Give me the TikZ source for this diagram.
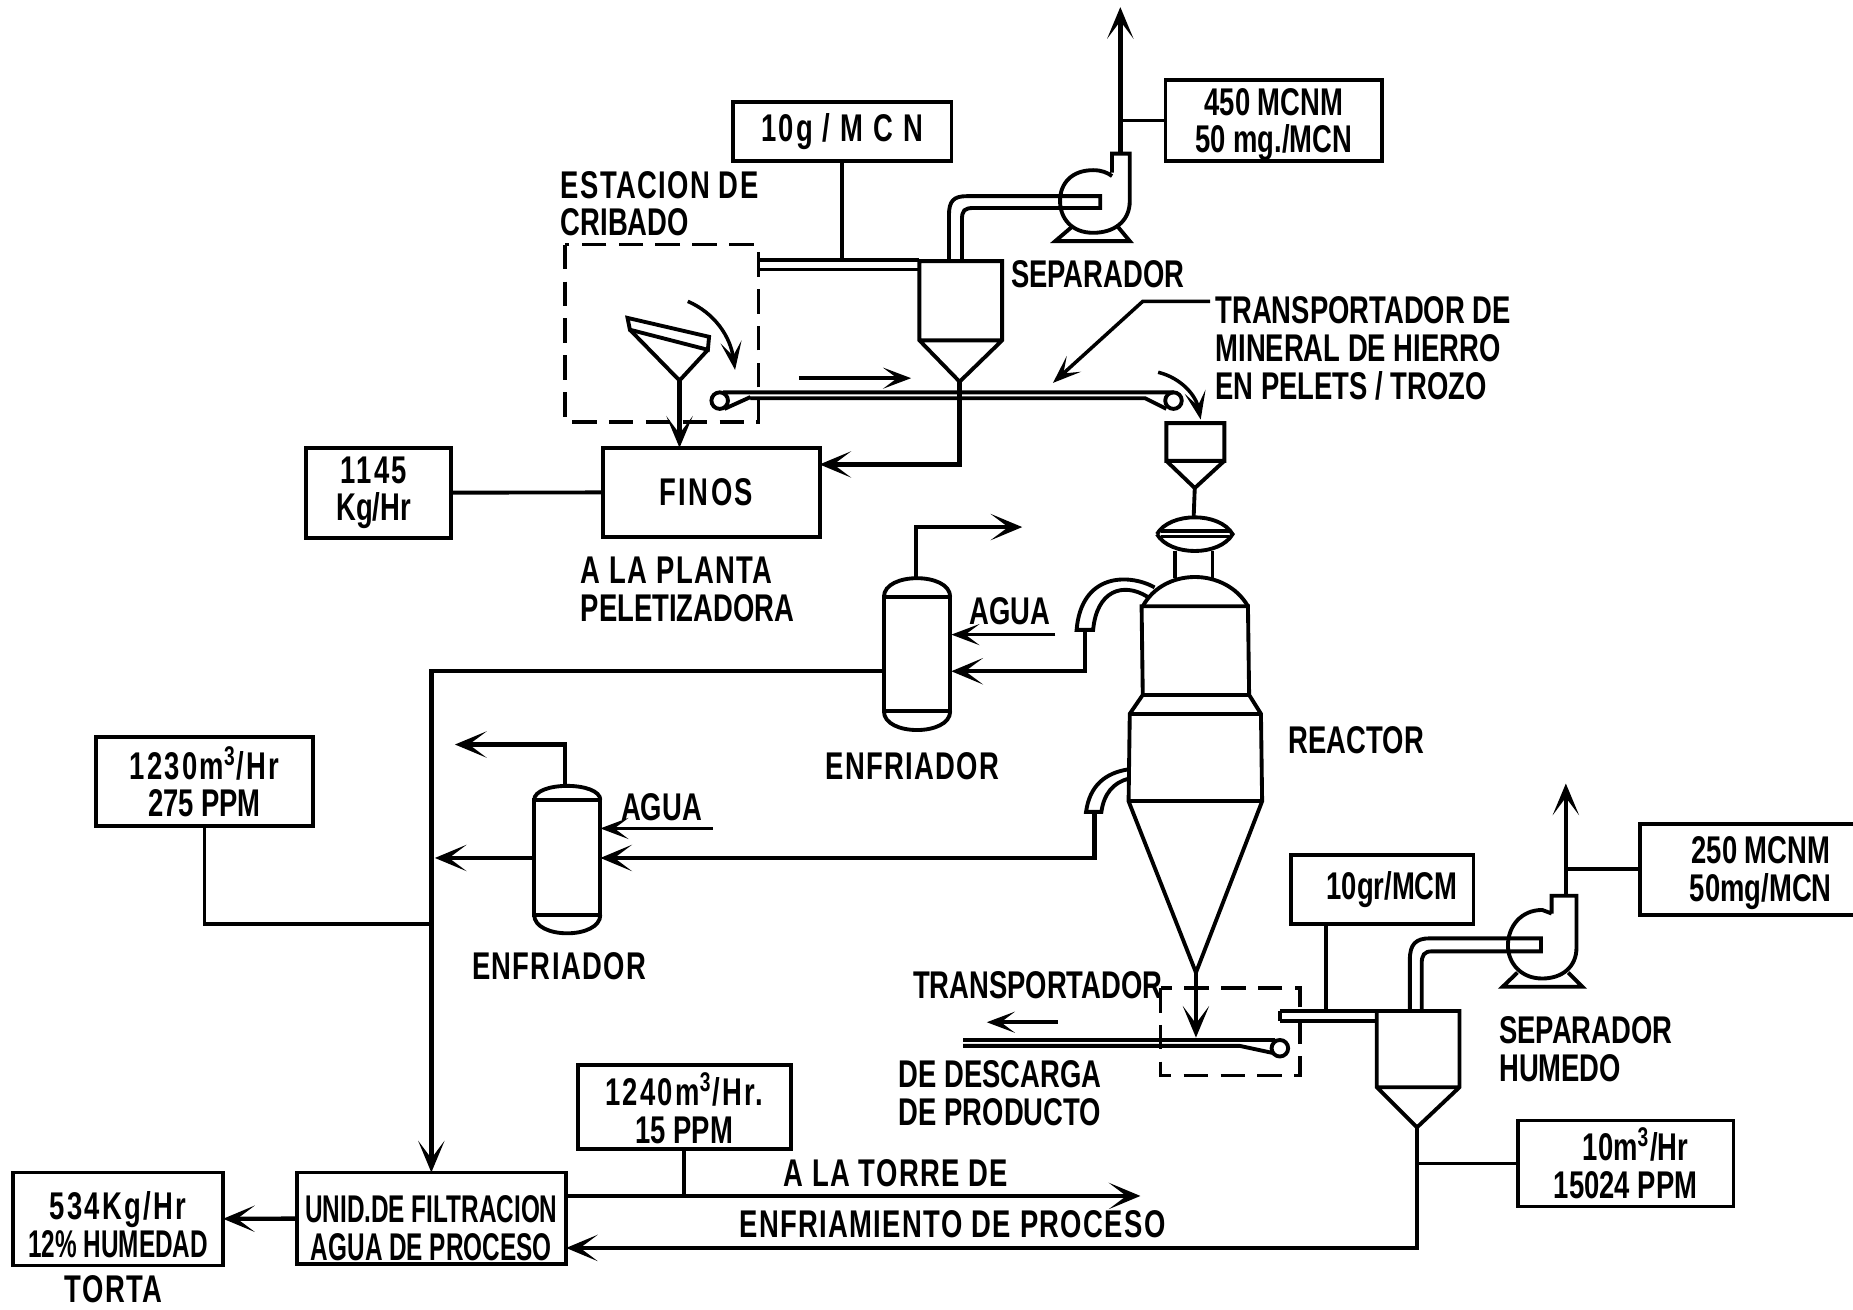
\documentclass[tikz,border=0pt]{standalone}
\usepackage{fontspec}
\usepackage{tikz}
\usetikzlibrary{arrows.meta,calc}
\setmainfont{Liberation Sans}[FakeStretch=0.71]
\newfontfamily\spacedfont{Liberation Sans}[FakeStretch=0.71,LetterSpace=3.5]
\newfontfamily\numfont{Liberation Sans}[FakeStretch=0.71,LetterSpace=6]
\newfontfamily\tightfont{Liberation Sans}[FakeStretch=0.63]
\newcommand{\dropline}[1]{\rule{0pt}{#1}}
\tikzset{
  pipe/.style={line width=1.1pt},
  flow/.style={line width=1.25pt,-{Stealth[length=9pt,width=7.5pt,inset=5pt]}},
  thinflow/.style={line width=1pt,-{Stealth[length=8pt,width=6pt,inset=4pt]}},
  tag/.style={draw,line width=1.1pt,align=center,inner sep=0pt,outer sep=0pt},
  lbl/.style={align=left,anchor=west,inner sep=0pt},
  spaced/.style={font=\fontsize{11}{10.8}\selectfont\spacedfont\bfseries},
  screen/.style={line width=1pt,dash pattern=on 7pt off 3.5pt},
}
\begin{document}
\begin{tikzpicture}[x=0.011818cm,y=-0.011818cm,font=\fontsize{11}{10.8}\selectfont\bfseries]
    \useasboundingbox (0,0) rectangle (1568,1108);
    \node[tag,minimum width=2.17cm,minimum height=.79cm] (box450) at (1078,102) {\dropline{10pt}450 MCNM\\50 mg./MCN};
    \node[tag,minimum width=2.19cm,minimum height=.59cm] (box10g) at (712.5,111) {\numfont 10g / M C N};
    \node[tag,minimum width=1.45cm,minimum height=.90cm] (box1145) at (320.5,417) {\hspace*{-.1cm}{\numfont 1145}\\\hspace*{-.1cm}Kg/Hr};
    \node[tag,minimum width=2.17cm,minimum height=.89cm] (finos) at (602,416.5) {\hspace*{-.1cm}\numfont FINOS};
    \node[tag,minimum width=2.17cm,minimum height=.89cm] (box1230) at (173,661.5) {{\numfont 1230m\textsuperscript{3}/Hr}\\275 PPM};
    \node[tag,minimum width=1.83cm,minimum height=.69cm] (box10gr) at (1169.5,753) {\hspace{.2cm}10gr/MCM};
    \node[tag,minimum width=2.41cm,minimum height=.91cm] (box250) at (1490,735.5) {\dropline{10pt}250 MCNM\\50mg/MCN};
    \node[tag,minimum width=2.16cm,minimum height=.86cm] (box10m) at (1375.5,984.5) {\hspace{.2cm}10m\textsuperscript{3}/Hr\\15024 PPM};
    \node[tag,minimum width=2.13cm,minimum height=.84cm] (box1240) at (579,936.5) {\dropline{10pt}{\numfont 1240m\textsuperscript{3}/Hr.}\\15 PPM};
    \node[tag,minimum width=2.69cm,minimum height=.92cm] (unid) at (365,1031) {\dropline{13pt}\tightfont UNID.DE FILTRACION\\\tightfont AGUA DE PROCESO};
    \node[tag,minimum width=2.10cm,minimum height=.93cm] (box534) at (100,1031.5) {\dropline{11pt}{\numfont 534Kg/Hr}\\\tightfont 12\% HUMEDAD};

    \node[lbl,spaced] (estacion) at (474,157) {ESTACION DE};
    \node[lbl] (cribado) at (474,188) {CRIBADO};
    \node[lbl] (separador) at (855,232) {SEPARADOR};
    \node[lbl] (mineral) at (1028,295) {TRANSPORTADOR DE\\MINERAL DE HIERRO\\EN PELETS / TROZO};
    \node[lbl] (planta) at (491,499) {{\spacedfont A LA PLANTA}\\PELETIZADORA};
    \node[lbl] (agua1) at (820,517) {AGUA};
    \node[spaced] (enfriador1) at (772,648) {ENFRIADOR};
    \node[lbl] (agua2) at (525,683) {AGUA};
    \node[spaced] (enfriador2) at (473,818) {ENFRIADOR};
    \node[lbl] (reactor) at (1090,626) {REACTOR};
    \node[lbl] (humedo) at (1268,888) {SEPARADOR\\HUMEDO};
    \node[lbl] (transp) at (772,834) {TRANSPORTADOR};
    \node[lbl] (descarga) at (760,925) {DE DESCARGA\\DE PRODUCTO};
    \node[spaced] (torre) at (758,993) {A LA TORRE DE};
    \node[spaced] (proceso) at (806,1036) {ENFRIAMIENTO DE PROCESO};
    \node[spaced] (torta) at (96,1091) {TORTA};

    \coordinate (vent1) at (948,6);
    \coordinate (fan1out) at (948,130);
    \coordinate (duct1) at (714,220);
    \coordinate (sieveapex) at (575,322);
    \coordinate (sep1apex) at (812,323);
    \coordinate (finosin) at (693.5,393);
    \coordinate (hopapex) at (1011,413);
    \coordinate (lenstop) at (1010,439);
    \coordinate (coolA) at (748,568);
    \coordinate (coolAe) at (805,568);
    \coordinate (coolAw) at (805,537);
    \coordinate (waterA) at (893,537);
    \coordinate (coolAtop) at (775,489);
    \coordinate (ventA) at (865,446);
    \coordinate (neckA) at (918,533);
    \coordinate (coolBw) at (452,726);
    \coordinate (coolBe) at (508,726);
    \coordinate (coolBin) at (508,701);
    \coordinate (waterB) at (603,701);
    \coordinate (coolBtop) at (478,665);
    \coordinate (ventB) at (385,630);
    \coordinate (neckB) at (926,687);
    \coordinate (junction) at (368,726);
    \coordinate (mainleft) at (366,782);
    \coordinate (reactapex) at (1012,823);
    \coordinate (belt2) at (1012,878);
    \coordinate (grtop) at (1122,782);
    \coordinate (duct2) at (1122,855);
    \coordinate (vent2) at (1325,663);
    \coordinate (fan2out) at (1325,758);
    \coordinate (sep2apex) at (1199,954);
    \coordinate (unidin) at (479,1056);
    \coordinate (tower) at (965,1012);

    \draw[flow] (fan1out) -- (vent1);
    \draw[pipe] (box450) -- (box450 -| vent1);
    \draw[pipe] (box10g.south) -- (box10g.south |- duct1);
    \draw[pipe] (box1145) -- (finos);
    \draw[flow] (sieveapex) -- (sieveapex |- finos.north);
    \draw[flow] (sep1apex) |- (finosin);
    \draw[pipe] (hopapex) -- (lenstop);
    \draw[flow] (coolA) -| (unid.north);
    \draw[flow] (neckA) |- (coolAe);
    \draw[thinflow] (waterA) -- (coolAw);
    \draw[flow] (coolAtop) |- (ventA);
    \draw[flow] (neckB) |- (coolBe);
    \draw[thinflow] (waterB) -- (coolBin);
    \draw[flow] (coolBtop) |- (ventB);
    \draw[flow] (coolBw) -- (junction);
    \draw[pipe] (box1230.south) |- (mainleft);
    \draw[flow] (reactapex) -- (belt2);
    \draw[pipe] (grtop) -- (duct2);
    \draw[flow] (fan2out) -- (vent2);
    \draw[pipe] (box250.west) -- (box250.west -| vent2);
    \draw[flow] (sep2apex) |- (unidin);
    \draw[pipe] (box10m) -- (box10m -| sep2apex);
    \draw[flow] (unid.east |- tower) -- (tower);
    \draw[pipe] (box1240.south) -- (box1240.south |- tower);
    \draw[flow] (unid) -- (box534);

    \draw[screen] (478,207) rectangle (642,357);
    \draw[screen] (982,836) rectangle (1100,910);

    \draw[pipe] (778,221) -- (848,221) -- (848,288) -- (812,323) -- (778,288) -- cycle (778,288) -- (848,288);
    \draw[pipe] (642,220) -- (778,220) (642,228) -- (778,228);
    \draw[pipe] (803,220) -- (803,182) .. controls (803,170) and (807,166) .. (818,166) -- (931,166) -- (931,176) -- (824,176) .. controls (816,176) and (814,178) .. (814,186) -- (814,220);
    \draw[pipe] (941,146) -- (941,130) -- (956,130) -- (956,170) .. controls (956,188) and (942,197) .. (925,197) .. controls (907,197) and (897,185) .. (897,170) .. controls (897,155) and (907,144) .. (925,144) .. controls (932,144) and (937,146) .. (941,149);
    \draw[pipe] (907,192) -- (893,204) -- (956,204) -- (946,192);

    \draw[pipe] (531,269) -- (600,285) -- (599,296) -- (533,279) -- cycle;
    \draw[pipe] (533,279) -- (575,322) -- (599,296);
    \draw[thinflow] (582,255) .. controls (605,265) and (618,285) .. (622,313);
    \draw[thinflow] (676,320) -- (771,320);
    \draw[pipe] (612,332) -- (993,332) (635,337) -- (969,337) -- (987,346) (635,336) -- (613,346);
    \foreach \x/\y in {609/339,993/339,1083/887} {
      \draw[pipe] (\x,\y) circle (7);
    }
    \draw[thinflow] (1024,255) -- (967,255) -- (891,324);
    \draw[thinflow] (980,315) .. controls (1000,320) and (1012,335) .. (1016,355);
    \draw[pipe] (987,358) rectangle (1036,390) (987,390) -- (1011,413) -- (1036,390);

    \draw[pipe] (979,452) .. controls (990,433) and (1032,433) .. (1043,452) .. controls (1032,471) and (990,471) .. (979,452);
    \draw[pipe] (982,449) -- (1040,449) (982,454) -- (1040,454);
    \draw[pipe] (994,466) -- (994,489) (1026,466) -- (1026,489);
    \draw[pipe] (967,513) .. controls (985,480) and (1037,480) .. (1056,513);
    \draw[pipe] (966,513) -- (1056,513) -- (1057,588) -- (1067,604) -- (1068,678) -- (1012,823) -- (955,678) -- (956,604) -- (967,588) -- cycle;
    \draw[pipe] (967,588) -- (1057,588) (956,604) -- (1067,604) (955,678) -- (1068,678);
    \draw[pipe] (977,497) .. controls (955,485) and (915,485) .. (911,533) -- (925,533) .. controls (928,500) and (950,492) .. (971,505);
    \draw[pipe] (955,651) .. controls (935,654) and (922,665) .. (919,687) -- (932,687) .. controls (934,672) and (942,662) .. (955,659);

    \foreach \l/\r/\t/\s/\e/\b in {748/804/484/505/602/623,452/508/661/677/774/795} {
      \draw[pipe] (\l,\s) rectangle (\r,\e);
      \draw[pipe] (\l,\s) .. controls (\l,\t) and (\r,\t) .. (\r,\s);
      \draw[pipe] (\l,\e) .. controls (\l,\b) and (\r,\b) .. (\r,\e);
    }

    \draw[pipe] (1165,855.5) -- (1235,855.5) -- (1235,920) -- (1199,954) -- (1165,920) -- cycle (1165,920) -- (1235,920);
    \draw[pipe] (1083,855.5) -- (1165,855.5) (1083,864) -- (1165,864) (1083,855.5) -- (1083,864);
    \draw[pipe] (1193,855) -- (1193,812) .. controls (1193,799) and (1198,794) .. (1210,794) -- (1304,794) -- (1304,805) -- (1212,805) .. controls (1205,805) and (1203,808) .. (1203,816) -- (1203,855);
    \draw[pipe] (1313,773) -- (1313,758) -- (1334,758) -- (1334,802) .. controls (1334,818) and (1322,828) .. (1305,828) .. controls (1287,828) and (1276,815) .. (1276,800) .. controls (1276,784) and (1287,770) .. (1305,770) -- (1313,773);
    \draw[pipe] (1284,823) -- (1271.5,835) -- (1339,835) -- (1327,823);
    \draw[pipe] (815,880) -- (1079,880) (815,885) -- (1049,885) -- (1077,891);
    \draw[thinflow] (895,865) -- (835,865);
  \end{tikzpicture}
\end{document}
